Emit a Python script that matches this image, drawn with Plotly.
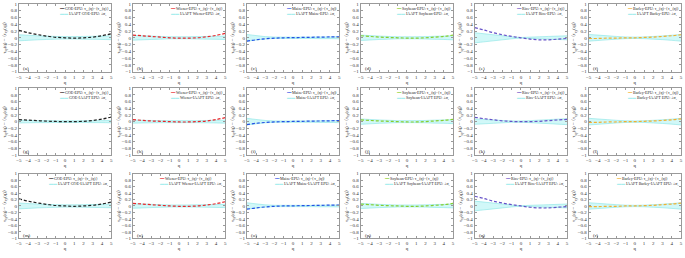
import plotly.graph_objects as go

q = [-5, -4, -3, -2, -1, 0, 1, 2, 3, 4, 5]

crops = ["GOE", "Wiener", "Maize", "Soybean", "Rice", "Barley"]
crop_colors = ["#222222", "#e8262a", "#2450e6", "#86cf2e", "#6652c8", "#f2b030"]
panel_letters = ["a", "b", "c", "d", "e", "f", "g", "h", "i", "j", "k", "l",
                 "m", "n", "o", "p", "q", "r"]

# EPU curves (rows 1 and 3)
goe_epu = [0.22, 0.15, 0.095, 0.05, 0.015, 0.0, -0.01, 0.0, 0.02, 0.06, 0.12]
wiener_epu = [0.08, 0.06, 0.04, 0.02, 0.0, -0.01, -0.01, 0.0, 0.03, 0.07, 0.13]
maize_epu = [-0.1, -0.06, -0.03, -0.01, 0.0, 0.005, 0.01, 0.015, 0.02, 0.025, 0.03]
soybean_epu = [0.06, 0.04, 0.02, 0.01, 0.0, -0.01, -0.01, 0.0, 0.02, 0.04, 0.08]
rice_epu = [0.3, 0.23, 0.15, 0.09, 0.04, 0.0, -0.04, -0.06, -0.06, -0.04, -0.02]
barley_epu = [-0.02, -0.02, -0.01, -0.01, 0.0, 0.0, 0.01, 0.02, 0.04, 0.06, 0.09]

# IAAFT-EPU curves (row 2)
goe_iaaft = [0.06, 0.045, 0.03, 0.015, 0.005, 0.0, 0.0, 0.01, 0.035, 0.075, 0.14]
wiener_iaaft = [0.06, 0.04, 0.02, 0.01, 0.0, -0.01, -0.01, 0.0, 0.02, 0.06, 0.12]
maize_iaaft = [-0.09, -0.05, -0.025, -0.01, 0.0, 0.005, 0.01, 0.015, 0.02, 0.025, 0.03]
soybean_iaaft = [0.05, 0.035, 0.02, 0.01, 0.0, -0.01, -0.01, 0.0, 0.02, 0.04, 0.07]
rice_iaaft = [0.13, 0.09, 0.055, 0.025, 0.005, 0.0, 0.0, 0.01, 0.03, 0.05, 0.065]
barley_iaaft = [-0.02, -0.02, -0.01, -0.01, 0.0, 0.0, 0.01, 0.02, 0.035, 0.055, 0.085]

# IAAFT +/- sigma half-widths
goe_sigma = [0.09, 0.075, 0.06, 0.05, 0.04, 0.035, 0.035, 0.04, 0.045, 0.05, 0.055]
goe_sigma_r2 = [0.04, 0.035, 0.03, 0.03, 0.025, 0.025, 0.025, 0.025, 0.03, 0.03, 0.035]
wiener_sigma = [0.07, 0.06, 0.05, 0.04, 0.03, 0.03, 0.03, 0.035, 0.04, 0.045, 0.05]
wiener_sigma_r2 = [0.045, 0.04, 0.035, 0.03, 0.03, 0.03, 0.03, 0.03, 0.035, 0.04, 0.045]
maize_sigma = [0.1, 0.065, 0.035, 0.02, 0.02, 0.02, 0.02, 0.02, 0.025, 0.025, 0.03]
soybean_sigma = [0.08, 0.065, 0.05, 0.04, 0.03, 0.03, 0.03, 0.035, 0.045, 0.05, 0.06]
rice_sigma = [0.15, 0.12, 0.09, 0.06, 0.03, 0.01, 0.02, 0.03, 0.04, 0.05, 0.06]
rice_sigma_r2 = [0.08, 0.065, 0.05, 0.035, 0.02, 0.02, 0.03, 0.045, 0.06, 0.075, 0.09]
barley_sigma = [0.1, 0.08, 0.06, 0.04, 0.025, 0.02, 0.025, 0.04, 0.055, 0.075, 0.1]

row_curves = [
    [goe_epu, wiener_epu, maize_epu, soybean_epu, rice_epu, barley_epu],
    [goe_iaaft, wiener_iaaft, maize_iaaft, soybean_iaaft, rice_iaaft, barley_iaaft],
    [goe_epu, wiener_epu, maize_epu, soybean_epu, rice_epu, barley_epu],
]
row_sigmas = [
    [goe_sigma, wiener_sigma, maize_sigma, soybean_sigma, rice_sigma, barley_sigma],
    [goe_sigma_r2, wiener_sigma_r2, maize_sigma, soybean_sigma, rice_sigma_r2, barley_sigma],
    [goe_sigma, wiener_sigma, maize_sigma, soybean_sigma, rice_sigma, barley_sigma],
]

TAU = "τ<sub>xy</sub>(q)−⟨τ<sub>xy</sub>(q)⟩"
SIG = "±σ<sub>τ</sub>"

def band_label(row, crop):
    if row == 0:
        return f"IAAFT {crop}-EPU: {SIG}"
    if row == 1:
        return f"{crop}-IAAFT EPU: {SIG}"
    return f"IAAFT {crop}-IAAFT EPU: {SIG}"

W, H = 685, 258
FONT = "Liberation Serif"
BAND_LINE = "#86e4e4"
BAND_FILL = "rgba(198,246,246,0.8)"
col_left = [16 + 114.8 * i for i in range(6)]
col_w = 93
row_px = [(2, 71), (88, 156), (175, 241)]

fig = go.Figure()
layout = {}
annotations = []

for r in range(3):
    for c in range(6):
        n = r * 6 + c + 1
        sfx = "" if n == 1 else str(n)
        xa, ya = "x" + sfx, "y" + sfx
        crop = crops[c]
        col = crop_colors[c]
        curve = row_curves[r][c]
        sig = row_sigmas[r][c]
        lower = [-s for s in sig]
        fig.add_trace(go.Scatter(x=q, y=lower, xaxis=xa, yaxis=ya, mode="lines",
                                 line=dict(color=BAND_LINE, width=0.6, shape="spline"),
                                 showlegend=False, hoverinfo="skip"))
        fig.add_trace(go.Scatter(x=q, y=sig, xaxis=xa, yaxis=ya, mode="lines",
                                 line=dict(color=BAND_LINE, width=0.6, shape="spline"),
                                 fill="tonexty", fillcolor=BAND_FILL,
                                 name=band_label(r, crop), showlegend=False))
        fig.add_trace(go.Scatter(x=q, y=curve, xaxis=xa, yaxis=ya, mode="lines",
                                 line=dict(color=col, width=1.2, dash="3px,2px", shape="spline"),
                                 name=f"{crop}-EPU: {TAU}", showlegend=False))
        x0 = col_left[c] / W
        x1 = (col_left[c] + col_w) / W
        y1 = 1 - row_px[r][0] / H
        y0 = 1 - row_px[r][1] / H
        axcommon = dict(showline=True, linecolor="#9a9a9a", linewidth=0.8, mirror="ticks",
                        ticks="inside", ticklen=2, tickcolor="#9a9a9a", showgrid=False,
                        zeroline=False, tickfont=dict(family=FONT, size=5, color="#333"))
        layout["xaxis" + sfx] = dict(domain=[x0, x1], anchor=ya, range=[-5, 5], dtick=1,
                                     tick0=-5,
                                     title=dict(text="q", font=dict(family=FONT, size=5, color="#333"),
                                                standoff=1),
                                     **axcommon)
        layout["yaxis" + sfx] = dict(domain=[y0, y1], anchor=xa, range=[-1, 1], dtick=0.2,
                                     tick0=-1,
                                     title=dict(text="τ<sub>xy</sub>(q) − ⟨τ<sub>xy</sub>(q)⟩",
                                                font=dict(family=FONT, size=5, color="#333"),
                                                standoff=1),
                                     **axcommon)
        # legend-like key at the top right of each panel
        key = (f"<span style='color:{col}'>╍╍</span> {crop}-EPU: {TAU}<br>"
               f"<span style='color:#a8eeee'>▬▬</span> {band_label(r, crop)}")
        annotations.append(dict(x=1.0, y=1.0, xref=xa + " domain", yref=ya + " domain",
                                xanchor="right", yanchor="top", align="left",
                                showarrow=False, text=key, borderpad=1,
                                font=dict(family=FONT, size=4, color="#222")))
        annotations.append(dict(x=-4.8, y=-0.9, xref=xa, yref=ya, xanchor="left",
                                yanchor="middle", showarrow=False,
                                text=f"({panel_letters[n - 1]})",
                                font=dict(family=FONT, size=5, color="#222")))

fig.update_layout(width=W, height=H, margin=dict(l=0, r=0, t=0, b=0),
                  paper_bgcolor="white", plot_bgcolor="white", showlegend=False,
                  font=dict(family=FONT), annotations=annotations, **layout)

fig.write_html("out.html", config={"displayModeBar": False},
               post_script="document.body.style.margin='0';")
